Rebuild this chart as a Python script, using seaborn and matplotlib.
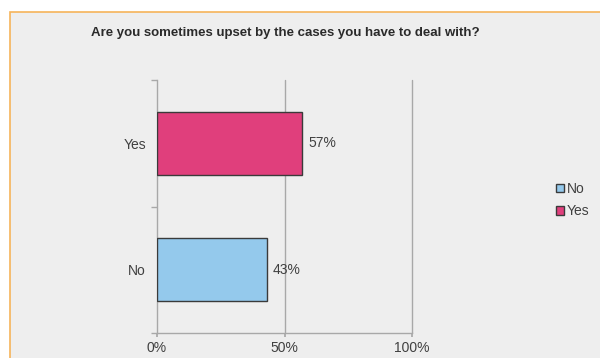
import matplotlib
matplotlib.use("Agg")
import matplotlib.pyplot as plt
from matplotlib.patches import Rectangle, Patch
import seaborn as sns
import pandas as pd

# Survey answers and their shares (percent)
answers = ["Yes", "No"]
shares = [57, 43]
legend_order = ["No", "Yes"]
colors = {"Yes": "#e03f7c", "No": "#94c9ec"}
x_ticks = [0, 50, 100]
x_tick_labels = ["0%", "50%", "100%"]
title = "Are you sometimes upset by the cases you have to deal with?"

sns.set_theme(style="white")
plt.rcParams["font.family"] = ["Liberation Sans", "DejaVu Sans"]

df = pd.DataFrame({"answer": answers, "share": shares})

fig = plt.figure(figsize=(6, 3.58), dpi=100)
fig.patch.set_facecolor("white")

# Gray chart panel with orange frame, behind everything
panel = Rectangle((10 / 600, -0.05), 1.0, 1 - 12 / 358 + 0.05,
                  transform=fig.transFigure, facecolor="#eeeeee",
                  edgecolor="#f6b45a", linewidth=1.2, zorder=-10)
fig.patches.append(panel)

ax = fig.add_axes([157 / 600, 1 - 333 / 358, 255 / 600, 253 / 358])
ax.set_facecolor("none")

sns.barplot(data=df, y="answer", x="share", hue="answer", order=answers,
            palette=colors, saturation=1, dodge=False, width=0.5,
            orient="h", edgecolor="#3a3a3a", linewidth=1.0, legend=False,
            ax=ax, zorder=3)

ax.set_xlim(0, 100)
ax.set_ylim(1.5, -0.5)
ax.set_xticks(x_ticks)
ax.set_xticklabels(x_tick_labels)
ax.set_yticks([-0.5, 0.5, 1.5], minor=True)
ax.set_xlabel("")
ax.set_ylabel("")

for spine in ["top", "right"]:
    ax.spines[spine].set_visible(False)
for spine in ["left", "bottom"]:
    ax.spines[spine].set_color("#a8a8a8")
    ax.spines[spine].set_linewidth(1.0)

for x in x_ticks[1:]:
    ax.axvline(x, color="#a8a8a8", linewidth=1.0, zorder=1, clip_on=False)

ax.tick_params(axis="y", which="major", length=0, pad=8,
               labelsize=10, labelcolor="#404040")
ax.tick_params(axis="y", which="minor", length=4, color="#a8a8a8",
               left=True, width=1.0)
ax.tick_params(axis="x", which="major", length=3, color="#a8a8a8",
               bottom=True, labelsize=10, labelcolor="#404040", pad=2.5)

# Value labels at the end of each bar
for i, (a, v) in enumerate(zip(answers, shares)):
    ax.text(v + 2.5, i, f"{v}%", va="center", ha="left",
            fontsize=10, color="#404040", zorder=4)

fig.text(285 / 600, 1 - 33 / 358, title, ha="center", va="center",
         fontsize=9.5, fontweight="bold", color="#2a2a2a")

handles = [Patch(facecolor=colors[k], edgecolor="#3a3a3a", linewidth=1.0)
           for k in legend_order]
fig.legend(handles, legend_order, loc="center left",
           bbox_to_anchor=(556 / 600, 1 - 200 / 358), frameon=False,
           handlelength=0.6, handleheight=0.6, handletextpad=0.2,
           labelspacing=0.6, fontsize=10, labelcolor="#404040",
           borderaxespad=0, borderpad=0)

fig.savefig("out.png", dpi=100)
